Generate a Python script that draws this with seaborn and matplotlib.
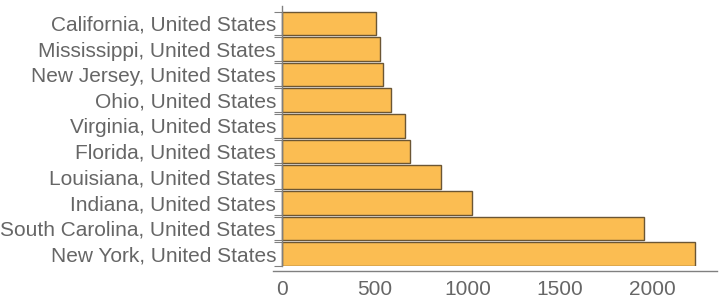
import matplotlib
matplotlib.use("Agg")
import matplotlib.pyplot as plt
import seaborn as sns
import pandas as pd
import numpy as np

categories = ["California, United States", "Mississippi, United States",
              "New Jersey, United States", "Ohio, United States",
              "Virginia, United States", "Florida, United States",
              "Louisiana, United States", "Indiana, United States",
              "South Carolina, United States", "New York, United States"]
values = [508, 529, 545, 589, 664, 691, 859, 1026, 1955, 2230]
xticks = [0, 500, 1000, 1500, 2000]

sns.set_theme(style="white")
plt.rcParams['font.family'] = ['Liberation Sans', 'DejaVu Sans']

df = pd.DataFrame({"region": categories, "value": values})

fig = plt.figure(figsize=(7.2, 3.02), dpi=100)
W, H = 720, 302
ax = fig.add_axes([273 / W, (H - 266) / H, (717 - 273) / W, (266 - 6) / H])

bw = 0.92
sns.barplot(data=df, x="value", y="region", orient="h", color="#FBBD52",
            saturation=1, width=bw, edgecolor="#6b5634", linewidth=1.0, ax=ax)

ax.set_xlim(-50, 2347)
ax.set_ylim(9 + bw / 2 + 0.01, -0.68)
ax.set_xlabel("")
ax.set_ylabel("")

axis_col = "#808080"
text_col = "#666666"
for s in ["top", "right"]:
    ax.spines[s].set_visible(False)
ax.spines["left"].set_position(("data", 0))
ax.spines["bottom"].set_position(("outward", 3.4))
for s in ["left", "bottom"]:
    ax.spines[s].set_color(axis_col)
    ax.spines[s].set_linewidth(1.0)

ax.set_xticks(xticks)
ax.set_xticks(np.arange(0, 2301, 100), minor=True)
ax.tick_params(axis="x", which="major", direction="in", length=4, width=0.8,
               color=axis_col, labelsize=15, labelcolor=text_col, pad=7)
ax.tick_params(axis="x", which="minor", direction="in", length=2, width=0.8,
               color=axis_col)

n = len(categories)
edges = sorted(set([i - bw / 2 for i in range(n)] + [i + bw / 2 for i in range(n)]))
ax.set_yticks(range(n))
ax.set_yticklabels(categories)
ax.set_yticks(edges, minor=True)
ax.tick_params(axis="y", which="major", length=0, labelsize=15,
               labelcolor=text_col, pad=4.5)
ax.tick_params(axis="y", which="minor", direction="out", length=6, width=0.8,
               color=axis_col, left=True)

fig.savefig("out.png", dpi=100)
